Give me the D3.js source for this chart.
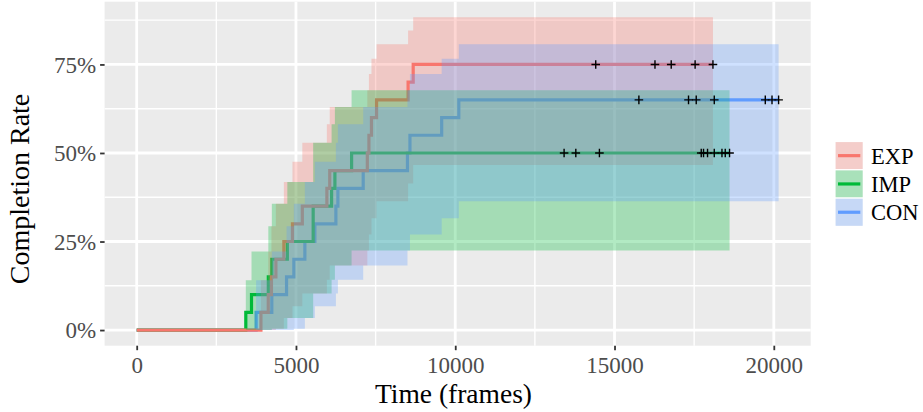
<!DOCTYPE html>
<html><head><meta charset="utf-8">
<script src="https://cdn.jsdelivr.net/npm/d3@7"></script>
<style>body{margin:0;background:#fff}svg{display:block}text{font-family:"Liberation Serif","Times New Roman",serif}</style>
</head><body><svg id="c" width="923" height="412"></svg>
<script>
// ---- data ----
const groups = ["EXP", "IMP", "CON"];
const colors = ["#F8766D", "#00BA38", "#619CFF"];

const expTimes  = [3900, 4130, 4230, 4370, 4620, 4890, 5200, 5970, 6060, 7240, 7290, 7370, 7530, 8520, 8680];
const expRate   = [0.05, 0.10, 0.15, 0.20, 0.25, 0.30, 0.35, 0.40, 0.45, 0.50, 0.55, 0.60, 0.65, 0.70, 0.75];
const expLower  = [0, 0, 0, 0.004, 0.034, 0.067, 0.103, 0.142, 0.182, 0.225, 0.270, 0.316, 0.364, 0.414, 0.466];
const expUpper  = [0.141, 0.222, 0.293, 0.357, 0.418, 0.475, 0.529, 0.581, 0.630, 0.677, 0.723, 0.766, 0.807, 0.846, 0.883];
const expCensor = [14410, 16270, 16780, 17530, 18090];

const impTimes  = [3425, 3604, 4132, 4242, 4729, 5540, 6118, 6222, 6746];
const impRate   = [0.05, 0.10, 0.15, 0.20, 0.25, 0.35, 0.40, 0.45, 0.50];
const impLower  = [0, 0, 0, 0.004, 0.034, 0.103, 0.142, 0.182, 0.225];
const impUpper  = [0.141, 0.222, 0.293, 0.357, 0.418, 0.529, 0.581, 0.630, 0.677];
const impCensor = [13417, 13785, 14526, 17722, 17794, 17920, 18131, 18373, 18476, 18611];

const conTimes  = [3749, 4242, 4704, 4933, 5279, 5593, 6253, 6316, 7111, 8500, 8578, 9574, 10112];
const conRate   = [0.05, 0.10, 0.15, 0.20, 0.25, 0.30, 0.35, 0.40, 0.45, 0.50, 0.55, 0.60, 0.65];
const conLower  = [0, 0, 0, 0.004, 0.034, 0.067, 0.103, 0.142, 0.182, 0.225, 0.270, 0.316, 0.364];
const conUpper  = [0.141, 0.222, 0.293, 0.357, 0.418, 0.475, 0.529, 0.581, 0.630, 0.677, 0.723, 0.766, 0.807];
const conCensor = [15765, 17323, 17565, 18131, 19733, 19944, 20151];

const xTicks = [0, 5000, 10000, 15000, 20000];
const xMinor = [2500, 7500, 12500, 17500];
const yTicks = [0, 0.25, 0.50, 0.75];
const yMinor = [0.125, 0.375, 0.625, 0.875];
const xTitle = "Time (frames)";
const yTitle = "Completion Rate";

// ---- build series ----
function build(times, rate, lower, upper, censor) {
  const pts = [{t: 0, r: 0, lo: 0, up: 0}];
  times.forEach((t, i) => pts.push({t, r: rate[i], lo: lower[i], up: upper[i]}));
  const last = pts[pts.length - 1];
  const tEnd = d3.max(censor.concat(times));
  pts.push({t: tEnd, r: last.r, lo: last.lo, up: last.up});
  const rateAt = t => pts[Math.max(0, d3.bisectRight(pts.map(p => p.t), t) - 1)].r;
  const marks = censor.map(t => ({t, r: rateAt(t)}));
  return {pts, marks};
}
const series = [
  build(expTimes, expRate, expLower, expUpper, expCensor),
  build(impTimes, impRate, impLower, impUpper, impCensor),
  build(conTimes, conRate, conLower, conUpper, conCensor)
];

// ---- layout ----
const P = {l: 104.6, r: 810.7, t: 1.7, b: 345.7};
const allT = series.flatMap(s => s.pts.map(p => p.t));
const allY = series.flatMap(s => s.pts.flatMap(p => [p.lo, p.up, p.r]));
const [tmin, tmax] = d3.extent(allT);
const [ymin, ymax] = d3.extent(allY);
const ex = (tmax - tmin) * 0.05, ey = (ymax - ymin) * 0.05;
const x = d3.scaleLinear().domain([tmin - ex, tmax + ex]).range([P.l, P.r]);
const y = d3.scaleLinear().domain([ymin - ey, ymax + ey]).range([P.b, P.t]);

const svg = d3.select("#c");
svg.append("rect").attr("x", P.l).attr("y", P.t).attr("width", P.r - P.l).attr("height", P.b - P.t).attr("fill", "#EBEBEB");

const grid = svg.append("g");
grid.selectAll(".ymin").data(yMinor).join("line")
  .attr("x1", P.l).attr("x2", P.r).attr("y1", d => y(d)).attr("y2", d => y(d))
  .attr("stroke", "#fff").attr("stroke-width", 1.4);
grid.selectAll(".xmin").data(xMinor).join("line")
  .attr("y1", P.t).attr("y2", P.b).attr("x1", d => x(d)).attr("x2", d => x(d))
  .attr("stroke", "#fff").attr("stroke-width", 1.4);
grid.selectAll(".ymaj").data(yTicks).join("line")
  .attr("x1", P.l).attr("x2", P.r).attr("y1", d => y(d)).attr("y2", d => y(d))
  .attr("stroke", "#fff").attr("stroke-width", 2.8);
grid.selectAll(".xmaj").data(xTicks).join("line")
  .attr("y1", P.t).attr("y2", P.b).attr("x1", d => x(d)).attr("x2", d => x(d))
  .attr("stroke", "#fff").attr("stroke-width", 2.8);

const line = d3.line().x(d => x(d.t)).y(d => y(d.r)).curve(d3.curveStepAfter);
const area = d3.area().x(d => x(d.t)).y0(d => y(d.lo)).y1(d => y(d.up)).curve(d3.curveStepAfter);

// lines drawn CON, IMP, EXP so EXP sits on top
[2, 1, 0].forEach(i => {
  svg.append("path").attr("d", line(series[i].pts)).attr("fill", "none")
    .attr("stroke", colors[i]).attr("stroke-width", 3.2).attr("stroke-linejoin", "miter");
});
series.forEach((s, i) => {
  svg.append("path").attr("d", area(s.pts)).attr("fill", colors[i]).attr("fill-opacity", 0.3);
});
series.forEach((s, i) => {
  const g = svg.append("g");
  s.marks.forEach(m => {
    const cx = x(m.t), cy = y(m.r), h = 4.3;
    g.append("path").attr("d", `M${cx - h},${cy}H${cx + h}M${cx},${cy - h}V${cy + h}`)
      .attr("stroke", "#000").attr("stroke-width", 1.4);
  });
});

// ---- axes ----
const ax = svg.append("g").attr("transform", `translate(0,${P.b})`)
  .call(d3.axisBottom(x).tickValues(xTicks).tickSize(4.5).tickPadding(6).tickFormat(d3.format("d")));
const ay = svg.append("g").attr("transform", `translate(${P.l},0)`)
  .call(d3.axisLeft(y).tickValues(yTicks).tickSize(4.5).tickPadding(4).tickFormat(d3.format(".0%")));
[ax, ay].forEach(a => {
  a.select(".domain").remove();
  a.selectAll(".tick line").attr("stroke", "#333333").attr("stroke-width", 1.8);
  a.selectAll(".tick text").attr("fill", "#4D4D4D").attr("font-size", 23)
    .attr("font-family", '"Liberation Serif","Times New Roman",serif');
});
ay.selectAll(".tick text").attr("dy", "0.34em");

svg.append("text").attr("x", 453.5).attr("y", 403).attr("text-anchor", "middle")
  .attr("font-size", 27.5).attr("fill", "#000").text(xTitle);
svg.append("text").attr("transform", `translate(29,189) rotate(-90)`)
  .attr("text-anchor", "middle").attr("font-size", 28).attr("fill", "#000").text(yTitle);

// ---- legend ----
const lg = svg.append("g");
const kx = 835, ky = 141.5, kw = 28.3, kh = 28.3;
groups.forEach((g, i) => {
  const yy = ky + i * kh;
  lg.append("rect").attr("x", kx).attr("y", yy).attr("width", kw).attr("height", kh)
    .attr("fill", "#F2F2F2").attr("stroke", "#fff").attr("stroke-width", 1.2);
  lg.append("line").attr("x1", kx + 3).attr("x2", kx + kw - 3).attr("y1", yy + kh / 2).attr("y2", yy + kh / 2)
    .attr("stroke", colors[i]).attr("stroke-width", 3.2);
  lg.append("rect").attr("x", kx + 0.6).attr("y", yy + 0.6).attr("width", kw - 1.2).attr("height", kh - 1.2)
    .attr("fill", colors[i]).attr("fill-opacity", 0.3);
  lg.append("text").attr("x", 871).attr("y", yy + kh / 2).attr("dy", "0.35em")
    .attr("font-size", 22.5).attr("fill", "#000").text(g);
});
</script></body></html>
